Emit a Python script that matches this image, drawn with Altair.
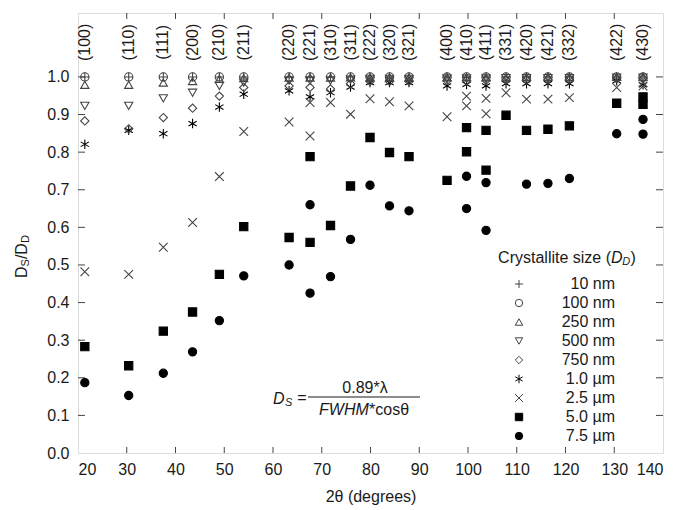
import altair as alt
import pandas as pd

# ---------------- data ----------------
SERIES = ["10 nm", "100 nm", "250 nm", "500 nm", "750 nm",
          "1.0 µm", "2.5 µm", "5.0 µm", "7.5 µm"]

HKL = ["(100)", "(110)", "(111)", "(200)", "(210)", "(211)", "(220)", "(221)",
       "(310)", "(311)", "(222)", "(320)", "(321)", "(400)", "(410)", "(411)",
       "(331)", "(420)", "(421)", "(332)", "(422)", "(430)"]
TWO_THETA = [21.4, 30.4, 37.5, 43.5, 49.0, 54.0, 63.3, 67.6, 71.8, 75.9, 79.9,
             83.9, 87.9, 95.7, 99.7, 103.7, 107.8, 112.0, 116.4, 120.8, 130.5, 135.9]
# overlapping reflections at the same angle: (300), (322), (330), (500)
OVERLAP_TWO_THETA = [67.6, 99.7, 103.7, 135.9]

S_10NM = [1.0, 1.0, 1.0, 1.0, 1.0, 1.0, 1.0, 1.0, 1.0, 1.0, 1.0,
          1.0, 1.0, 1.0, 1.0, 1.0, 1.0, 1.0, 1.0, 1.0, 1.0, 1.0,
          None, None, None, None]
S_100NM = [1.0, 1.0, 1.0, 1.0, 1.0, 1.0, 1.0, 1.0, 1.0, 1.0, 1.0,
           1.0, 1.0, 1.0, 1.0, 1.0, 1.0, 1.0, 1.0, 1.0, 1.0, 1.0,
           None, None, None, None]
S_250NM = [0.979, 0.979, 0.985, 0.989, 0.995, 0.997, 0.998, 0.998, 0.998, 0.999, 0.999,
           0.999, 0.999, 0.999, 0.999, 0.999, 0.999, 1.0, 1.0, 1.0, 1.0, 1.0,
           None, None, None, None]
S_500NM = [0.923, 0.923, 0.943, 0.958, 0.976, 0.985, 0.990, 0.990, 0.990, 0.993, 0.995,
           0.995, 0.995, 0.996, 0.996, 0.996, 0.997, 0.997, 0.997, 0.997, 0.998, 0.998,
           None, None, None, None]
S_750NM = [0.883, 0.862, 0.892, 0.917, 0.949, 0.972, 0.976, 0.972, 0.968, 0.982, 0.988,
           0.988, 0.988, 0.990, 0.990, 0.991, 0.992, 0.992, 0.993, 0.993, 0.995, 0.995,
           None, None, None, None]
S_1UM = [0.821, 0.858, 0.849, 0.876, 0.920, 0.954, 0.963, 0.947, 0.958, 0.973, 0.985,
         0.985, 0.985, 0.976, 0.980, 0.976, 0.982, 0.982, 0.982, 0.982, 0.990, 0.979,
         None, None, None, None]
S_2_5UM = [0.482, 0.475, 0.547, 0.613, 0.735, 0.855, 0.880, 0.932, 0.932, 0.901, 0.942,
           0.934, 0.923, 0.894, 0.949, 0.943, 0.958, 0.941, 0.941, 0.945, 0.972, 0.976,
           0.843, 0.923, 0.902, 0.985]
S_5UM = [0.283, 0.232, 0.324, 0.375, 0.475, 0.602, 0.573, 0.788, 0.605, 0.710, 0.839,
         0.799, 0.788, 0.725, 0.865, 0.858, 0.898, 0.858, 0.861, 0.870, 0.930, 0.947,
         0.560, 0.801, 0.752, 0.927]
S_7_5UM = [0.187, 0.153, 0.212, 0.269, 0.352, 0.471, 0.500, 0.660, 0.469, 0.568, 0.712,
           0.657, 0.644, None, 0.736, 0.719, None, 0.715, 0.717, 0.730, 0.849, 0.887,
           0.425, 0.650, 0.592, 0.848]

X_TICKS = [20, 30, 40, 50, 60, 70, 80, 90, 100, 110, 120, 130, 140]
Y_TICKS = [0.0, 0.1, 0.2, 0.3, 0.4, 0.5, 0.6, 0.7, 0.8, 0.9, 1.0]

# ---------------- build table ----------------
ALL_ANGLES = TWO_THETA + OVERLAP_TWO_THETA
rows = []
for name, vals in zip(SERIES, [S_10NM, S_100NM, S_250NM, S_500NM, S_750NM,
                               S_1UM, S_2_5UM, S_5UM, S_7_5UM]):
    for a, v in zip(ALL_ANGLES, vals):
        if v is not None:
            rows.append({"series": name, "two_theta": a, "ratio": v})
df = pd.DataFrame(rows)
df_hkl = pd.DataFrame({"hkl": HKL, "two_theta": TWO_THETA})
df_xt = pd.DataFrame({"t": X_TICKS[1:-1]})
df_yt = pd.DataFrame({"t": Y_TICKS[1:]})

# ---------------- styling ----------------
W, H = 585, 440
FONT = "Liberation Sans"
TXT = "#1a1a1a"
GRAY = "#444444"

SHAPES = [
    "M-1.1,0L1.1,0M0,-1.1L0,1.1",
    "circle",
    "triangle-up",
    "triangle-down",
    "diamond",
    "M0,-1.15L0,1.15M-1,-0.58L1,0.58M-1,0.58L1,-0.58",
    "M-1.05,-1.05L1.05,1.05M-1.05,1.05L1.05,-1.05",
    "square",
    "circle",
]
FILLS = ["transparent", "transparent", "transparent", "transparent", "transparent",
         "transparent", "transparent", "#000000", "#000000"]
STROKES = [GRAY, GRAY, GRAY, GRAY, GRAY, "#000000", GRAY, "#000000", "#000000"]

xs = alt.Scale(domain=[20, 140], nice=False, zero=False)
ys = alt.Scale(domain=[0, 1.17], nice=False, zero=True)

leg = alt.Legend(title=None, orient="none", legendX=433, legendY=263,
                 labelAlign="right", labelOffset=88, labelFont=FONT,
                 labelFontSize=16, labelColor=TXT, symbolSize=55,
                 symbolStrokeWidth=1, rowPadding=3, padding=0, labelLimit=0)

points = alt.Chart(df).mark_point(size=68, strokeWidth=1.1, opacity=1, filled=False).encode(
    x=alt.X("two_theta:Q", scale=xs,
            axis=alt.Axis(values=X_TICKS, title="2θ (degrees)", grid=False,
                          domain=False, ticks=False, tickSize=0,
                          labelFont=FONT, labelFontSize=16, labelColor=TXT,
                          labelPadding=8, titleFont=FONT, titleFontSize=16,
                          titleFontWeight="normal", titleColor=TXT, titlePadding=11)),
    y=alt.Y("ratio:Q", scale=ys,
            axis=alt.Axis(values=Y_TICKS, format=".1f", title=None, grid=False,
                          domain=False, ticks=False, tickSize=0,
                          labelFont=FONT, labelFontSize=16, labelColor=TXT,
                          labelPadding=9)),
    shape=alt.Shape("series:N", scale=alt.Scale(domain=SERIES, range=SHAPES), legend=leg),
    fill=alt.Fill("series:N", scale=alt.Scale(domain=SERIES, range=FILLS), legend=leg),
    stroke=alt.Stroke("series:N", scale=alt.Scale(domain=SERIES, range=STROKES), legend=leg),
    order=alt.Order("series:N", sort="ascending"),
)

FRAME = "#444444"
tick_b = alt.Chart(df_xt).mark_rule(color=FRAME, strokeWidth=1).encode(
    x=alt.X("t:Q", scale=xs), y=alt.value(H), y2=alt.value(H - 6))
tick_t = alt.Chart(df_xt).mark_rule(color=FRAME, strokeWidth=1).encode(
    x=alt.X("t:Q", scale=xs), y=alt.value(0), y2=alt.value(6))
tick_l = alt.Chart(df_yt).mark_rule(color=FRAME, strokeWidth=1).encode(
    y=alt.Y("t:Q", scale=ys), x=alt.value(0), x2=alt.value(7))
tick_r = alt.Chart(df_yt).mark_rule(color=FRAME, strokeWidth=1).encode(
    y=alt.Y("t:Q", scale=ys), x=alt.value(W - 7), x2=alt.value(W))

hkl = alt.Chart(df_hkl).mark_text(angle=270, align="center", baseline="middle",
                                  font=FONT, fontSize=16, color=TXT).encode(
    x=alt.X("two_theta:Q", scale=xs), y=alt.datum(1.092), text="hkl:N")


def txt(s, x, y, size=16, italic=False, align="left", angle=0, baseline="middle"):
    kw = dict(align=align, baseline=baseline, font=FONT, fontSize=size, color=TXT)
    if italic:
        kw["fontStyle"] = "italic"
    if angle:
        kw["angle"] = angle
    return alt.Chart(pd.DataFrame({"s": [s]})).mark_text(**kw).encode(
        text="s:N", x=alt.value(x), y=alt.value(y))


# y-axis title  D_S / D_D (rotated)
ytitle = [
    txt("D", -56, 265, 16, angle=270),
    txt("S", -52, 253.4, 11, angle=270),
    txt("/", -56, 246.1, 16, angle=270),
    txt("D", -56, 241.7, 16, angle=270),
    txt("D", -52, 230.1, 11, angle=270),
]

# legend title  Crystallite size (D_D)
ltitle = [
    txt("Crystallite size (", 533, 245, 16, align="right"),
    txt("D", 533, 245, 16, italic=True),
    txt("D", 544.3, 249, 11, italic=True),
    txt(")", 552.6, 245, 16),
]

# formula
formula = [
    txt("D", 195, 386, 16, italic=True),
    txt("S", 207, 390, 11, italic=True),
    txt("=", 224, 385, 16, align="center"),
    txt("0.89*λ", 287, 375, 16, align="center"),
    txt("FWHM", 241, 397, 16, italic=True),
    txt("*cosθ", 291, 397, 16),
]
bar = alt.Chart(pd.DataFrame({"s": [0]})).mark_rule(color=TXT, strokeWidth=1).encode(
    x=alt.value(230), x2=alt.value(342), y=alt.value(384))

chart = alt.layer(
    tick_b, tick_t, tick_l, tick_r, points, hkl, bar, *ytitle, *ltitle, *formula
).properties(
    width=W, height=H,
    autosize=alt.AutoSizeParams(type="none"),
    padding={"left": 70, "top": 5, "right": 13, "bottom": 56},
).configure_view(stroke=FRAME, strokeWidth=1.2).configure(background="white")

chart.save("out.html", embed_options={"renderer": "svg", "actions": False})
